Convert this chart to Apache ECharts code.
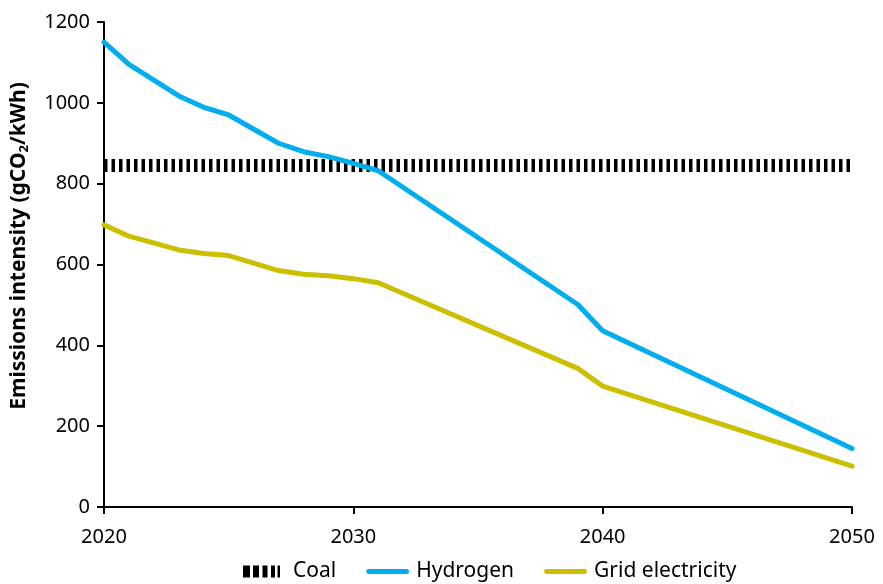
<!DOCTYPE html>
<html>
<head>
<meta charset="utf-8">
<script src="https://cdn.jsdelivr.net/npm/echarts@6/dist/echarts.min.js"></script>
<style>
  html, body { margin: 0; padding: 0; background: #fff; }
  #chart { width: 883px; height: 584px; }
</style>
</head>
<body>
<div id="chart"></div>
<script>
// 数据
const yearTicks = [2020, 2030, 2040, 2050];
const coal = [[2020, 845], [2050, 845]];
const hydrogen = [
    [2020, 1150], [2021, 1095], [2023, 1017], [2024, 989], [2025, 970],
    [2027, 900], [2028, 879], [2029, 867], [2030, 850], [2031, 832],
    [2039, 501], [2040, 436], [2050, 145]
];
const gridElectricity = [
    [2020, 698], [2021, 670], [2023, 636], [2024, 627], [2025, 622],
    [2027, 585], [2028, 576], [2029, 572], [2030, 565], [2031, 555],
    [2039, 343], [2040, 299], [2050, 101]
];

const fontFamily = '"Noto Sans", "Open Sans", sans-serif';
const blue = '#00AEEF';
const yellow = '#CBBF00';

// 图例图标：煤炭为竖条，其他为细线（首尾的 M 用于撑开包围盒）
const coalIcon = 'path://M0,0h7v12h-7z M10,0h6v12h-6z M19.5,0h5v12h-5z M28,0h4v12h-4z M34.5,0h2.5v12h-2.5z M43,0';
const lineIcon = 'path://M0,0 M1.5,3.5h40a2.5,2.5 0 0 1 0,5h-40a2.5,2.5 0 0 1 0,-5z M43,12';

var myChart = echarts.init(document.getElementById('chart'));
var option = {
    animation: false,
    textStyle: { fontFamily: fontFamily, color: '#000' },
    grid: {
        left: 104,
        right: 31,
        top: 22,
        bottom: 77
    },
    legend: {
        bottom: -3,
        left: 238,
        itemWidth: 43,
        itemHeight: 12,
        itemGap: 30,
        textStyle: { fontSize: 21, color: '#000', fontFamily: fontFamily, padding: [0, 0, 0, 2] },
        data: [
            { name: 'Coal', icon: coalIcon },
            { name: 'Hydrogen', icon: lineIcon },
            { name: 'Grid electricity', icon: lineIcon }
        ]
    },
    xAxis: {
        type: 'value',
        min: 2020,
        max: 2050,
        interval: 10,
        axisLine: { show: true, lineStyle: { color: '#000', width: 2 } },
        axisTick: { show: true, length: 7, lineStyle: { color: '#000', width: 2 } },
        axisLabel: {
            fontSize: 20,
            color: '#000',
            margin: 20,
            formatter: v => (yearTicks.indexOf(v) >= 0 ? String(v) : '')
        },
        splitLine: { show: false }
    },
    yAxis: {
        type: 'value',
        min: 0,
        max: 1200,
        interval: 200,
        name: 'Emissions intensity (gCO{sub|2}/kWh)',
        nameLocation: 'middle',
        nameGap: 73,
        nameRotate: 90,
        nameTextStyle: {
            fontSize: 21,
            fontWeight: 'bold',
            color: '#000',
            fontFamily: fontFamily,
            padding: [0, 0, 0, 37],
            rich: {
                sub: { fontSize: 13, fontWeight: 'bold', verticalAlign: 'bottom', padding: [11, 0, 0, 0] }
            }
        },
        axisLine: { show: true, lineStyle: { color: '#000', width: 2 } },
        axisTick: { show: true, length: 7, lineStyle: { color: '#000', width: 2 } },
        axisLabel: { fontSize: 20, color: '#000', margin: 14, formatter: v => String(v) },
        splitLine: { show: false }
    },
    series: [
        {
            name: 'Coal',
            type: 'line',
            data: coal,
            showSymbol: false,
            symbol: 'none',
            color: '#000',
            lineStyle: { color: '#000', width: 13, type: [3.5, 4], cap: 'butt' },
            z: 1
        },
        {
            name: 'Hydrogen',
            type: 'line',
            data: hydrogen,
            showSymbol: false,
            symbol: 'none',
            color: blue,
            lineStyle: { color: blue, width: 5, cap: 'round', join: 'round' },
            z: 3
        },
        {
            name: 'Grid electricity',
            type: 'line',
            data: gridElectricity,
            showSymbol: false,
            symbol: 'none',
            color: yellow,
            lineStyle: { color: yellow, width: 5, cap: 'round', join: 'round' },
            z: 2
        }
    ]
};
myChart.setOption(option);
</script>
</body>
</html>
